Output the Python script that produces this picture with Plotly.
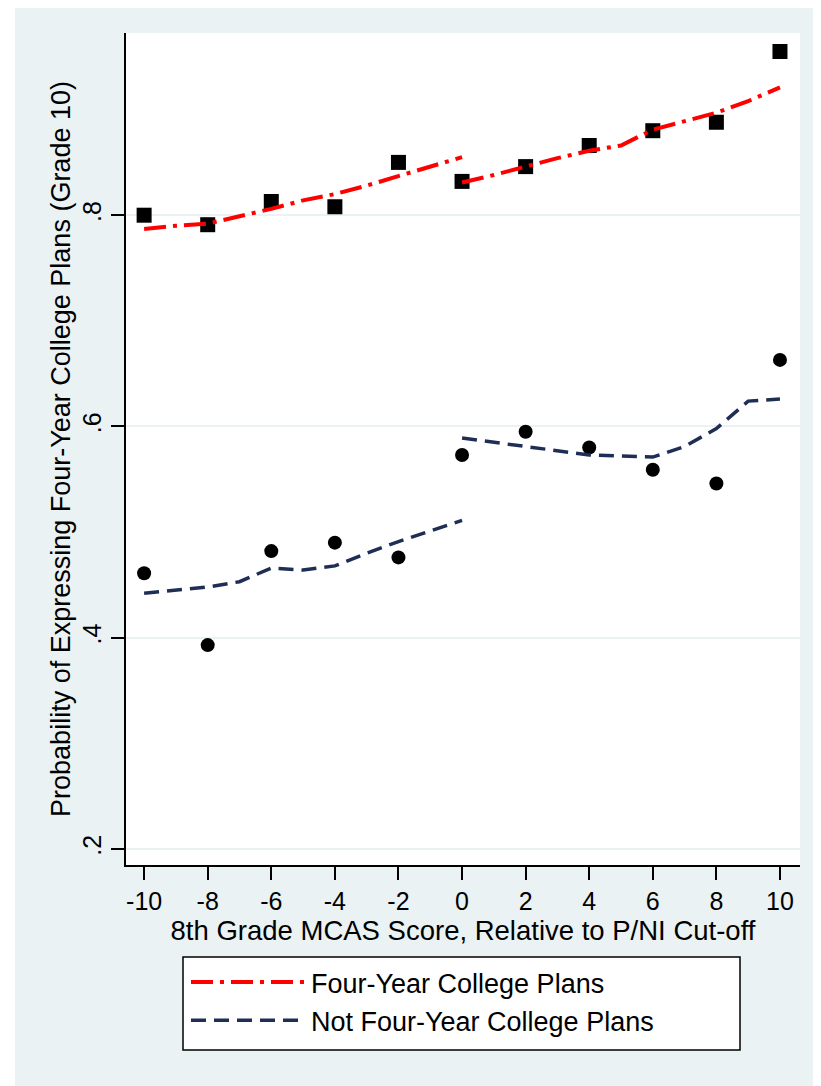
import plotly.graph_objects as go

# ---- data ----
scores = [-10, -8, -6, -4, -2, 0, 2, 4, 6, 8, 10]
four_year_means = [0.800, 0.791, 0.813, 0.808, 0.850, 0.832, 0.846, 0.866, 0.880, 0.888, 0.955]
not_four_year_means = [0.461, 0.393, 0.482, 0.490, 0.476, 0.573, 0.595, 0.580, 0.559, 0.546, 0.663]

fit_x_left = [-10, -9, -8, -7, -6, -5, -4, -3, -2, -1, 0]
fit_x_right = [0, 1, 2, 3, 4, 5, 6, 7, 8, 9, 10]
four_year_fit_left = [0.787, 0.790, 0.792, 0.799, 0.806, 0.814, 0.820, 0.828, 0.837, 0.846, 0.855]
four_year_fit_right = [0.831, 0.838, 0.846, 0.854, 0.861, 0.866, 0.881, 0.889, 0.897, 0.908, 0.921]
not_four_year_fit_left = [0.442, 0.445, 0.448, 0.453, 0.466, 0.464, 0.468, 0.480, 0.491, 0.501, 0.511]
not_four_year_fit_right = [0.589, 0.585, 0.581, 0.577, 0.573, 0.572, 0.571, 0.581, 0.598, 0.624, 0.626]

x_tick_vals = [-10, -8, -6, -4, -2, 0, 2, 4, 6, 8, 10]
x_tick_text = ["-10", "-8", "-6", "-4", "-2", "0", "2", "4", "6", "8", "10"]
y_tick_vals = [0.2, 0.4, 0.6, 0.8]
y_tick_text = [".2", ".4", ".6", ".8"]

series_names = ["Four-Year College Plans", "Not Four-Year College Plans"]

# ---- style ----
FONT = "Liberation Sans, Arial, sans-serif"
BG = "#EAF2F3"
RED = "#FF0000"
NAVY = "#1F2E55"

fig = go.Figure()

fig.add_trace(go.Scatter(
    x=scores, y=four_year_means, mode="markers", showlegend=False,
    marker=dict(symbol="square", size=15, color="black"), hoverinfo="skip"))
fig.add_trace(go.Scatter(
    x=scores, y=not_four_year_means, mode="markers", showlegend=False,
    marker=dict(symbol="circle", size=14, color="black"), hoverinfo="skip"))

fig.add_trace(go.Scatter(
    x=fit_x_left + [None] + fit_x_right,
    y=four_year_fit_left + [None] + four_year_fit_right,
    mode="lines", name=series_names[0], connectgaps=False,
    line=dict(color=RED, width=4, dash="22px,7px,4px,7px")))
fig.add_trace(go.Scatter(
    x=fit_x_left + [None] + fit_x_right,
    y=not_four_year_fit_left + [None] + not_four_year_fit_right,
    mode="lines", name=series_names[1], connectgaps=False,
    line=dict(color=NAVY, width=3.5, dash="15px,8px")))

# page has an 8px body margin; figure coordinates = page coordinates - 8
OFF = 8
W, H = 821 - OFF, 1086 - OFF
PL, PR, PT, PB = 126 - OFF, 800 - OFF, 33 - OFF, 865 - OFF
pw, ph = PR - PL, PB - PT

def px_x(p):
    return (p - OFF - PL) / pw

def px_y(p):
    return (PB - (p - OFF)) / ph

fig.update_layout(
    width=W, height=H,
    margin=dict(l=PL, r=W - PR, t=PT, b=H - PB, pad=0),
    paper_bgcolor=BG, plot_bgcolor="white",
    font=dict(family=FONT, size=25, color="black"),
    xaxis=dict(
        range=[-10.57, 10.63], tickmode="array", tickvals=x_tick_vals, ticktext=x_tick_text,
        ticks="outside", ticklen=13, tickwidth=1.5, tickcolor="black",
        showline=True, linecolor="black", linewidth=2, mirror=False,
        showgrid=False, zeroline=False,
        tickfont=dict(size=25),
        title=dict(text="8th Grade MCAS Score, Relative to P/NI Cut-off",
                   font=dict(size=27.5), standoff=2),
    ),
    yaxis=dict(
        range=[0.1848, 0.9725], tickmode="array", tickvals=y_tick_vals, ticktext=y_tick_text,
        ticks="outside", ticklen=13, tickwidth=1.5, tickcolor="black", tickangle=-90,
        showline=True, linecolor="black", linewidth=2, mirror=False,
        showgrid=True, gridcolor=BG, gridwidth=2, zeroline=False,
        tickfont=dict(size=25),
        title=dict(text="Probability of Expressing Four-Year College Plans (Grade 10)",
                   font=dict(size=27), standoff=0),
    ),
    legend=dict(
        x=px_x(186), y=px_y(958), xanchor="left", yanchor="top",
        bgcolor="rgba(0,0,0,0)", borderwidth=0,
        font=dict(size=27), itemwidth=115, tracegroupgap=0,
    ),
    shapes=[
        # white page strip on the left (beyond body margin)
        dict(type="rect", xref="paper", yref="paper", layer="below",
             x0=px_x(OFF - 2), x1=px_x(15), y0=px_y(1086 + 10), y1=px_y(OFF - 2),
             fillcolor="white", line=dict(width=0)),
        # legend box
        dict(type="rect", xref="paper", yref="paper", layer="above",
             x0=px_x(183), x1=px_x(740), y0=px_y(1050), y1=px_y(957),
             fillcolor="white", line=dict(color="black", width=1.5)),
    ],
)

fig.write_html("out.html")
